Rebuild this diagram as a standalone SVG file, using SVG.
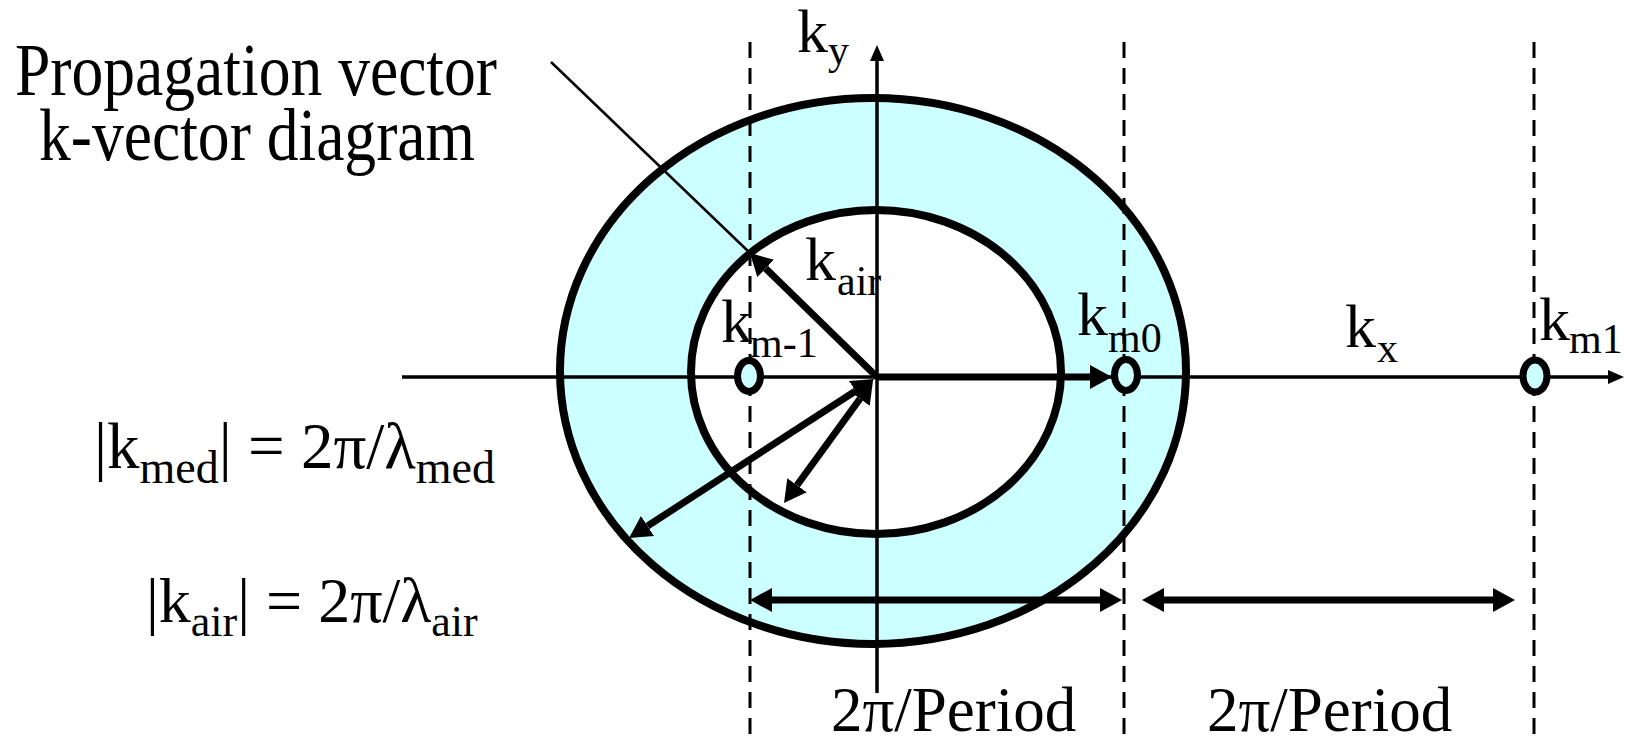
<svg xmlns="http://www.w3.org/2000/svg" width="1626" height="742" viewBox="0 0 1626 742">
<style>
text{font-family:"Liberation Serif","Times New Roman",serif;fill:#000}
.main{font-size:62px}
.sub{font-size:42px}
.emain{font-size:64px}
.esub{font-size:44px}
.ell{stroke:#000;stroke-width:8}
.dash{stroke:#000;stroke-width:3;stroke-dasharray:16 10;fill:none}
.axis{stroke:#000;stroke-width:3.5;fill:none}
.thick{stroke:#000;stroke-width:7;fill:none}
.pt{fill:#CCFFFF;stroke:#000;stroke-width:7}
</style>
<defs>
<marker id="ah" viewBox="0 -12 22 24" refX="0" refY="0" markerWidth="22" markerHeight="24" markerUnits="userSpaceOnUse" orient="auto-start-reverse"><path d="M0,-12 L22,0 L0,12 Z" fill="#000"/></marker>
<marker id="as" viewBox="0 -7 16 14" refX="0" refY="0" markerWidth="16" markerHeight="14" markerUnits="userSpaceOnUse" orient="auto-start-reverse"><path d="M0,-7 L16,0 L0,7 Z" fill="#000"/></marker>
</defs>
<rect width="1626" height="742" fill="#fff"/>

<g id="outer-circle"><ellipse class="ell" cx="873" cy="371" rx="313" ry="273" fill="#CCFFFF"/></g>
<g id="inner-circle"><ellipse class="ell" cx="876" cy="372" rx="185" ry="162" fill="#fff"/></g>

<g id="connectors">
<line class="dash" x1="750" y1="42" x2="750" y2="742"/>
<line class="dash" x1="1124" y1="42" x2="1124" y2="742"/>
<line class="dash" x1="1534" y1="42" x2="1534" y2="742"/>
<line class="axis" x1="402" y1="377" x2="1608" y2="377" marker-end="url(#as)"/>
<line class="axis" x1="877" y1="693" x2="877" y2="61" marker-end="url(#as)"/>
<line x1="551" y1="62" x2="750" y2="253" stroke="#000" stroke-width="2.5"/>
<line class="thick" x1="877" y1="377" x2="765.7" y2="268.4" marker-end="url(#ah)"/>
<line class="thick" x1="877" y1="377" x2="1090" y2="377" stroke-width="8" marker-end="url(#ah)"/>
<line class="thick" x1="855.5" y1="391" x2="647.5" y2="526" marker-start="url(#ah)" marker-end="url(#ah)"/>
<line class="thick" x1="860" y1="398.8" x2="797" y2="485.2" marker-start="url(#ah)" marker-end="url(#ah)"/>
<line class="thick" x1="772" y1="600" x2="1100" y2="600" stroke-width="7.5" marker-start="url(#ah)" marker-end="url(#ah)"/>
<line class="thick" x1="1164" y1="600" x2="1493" y2="600" stroke-width="7.5" marker-start="url(#ah)" marker-end="url(#ah)"/>
</g>

<g id="k-m-1"><ellipse class="pt" cx="749" cy="376" rx="11.5" ry="15.5"/></g>
<g id="k-m0"><ellipse class="pt" cx="1126" cy="375" rx="11.5" ry="15.5"/></g>
<g id="k-m1"><ellipse class="pt" cx="1535" cy="376" rx="12" ry="16"/></g>

<g id="title">
<text x="256" y="95" font-size="74" text-anchor="middle" textLength="482" lengthAdjust="spacingAndGlyphs">Propagation vector</text>
<text x="257" y="160" font-size="74" text-anchor="middle" textLength="436" lengthAdjust="spacingAndGlyphs">k-vector diagram</text>
</g>

<g id="label-ky"><text><tspan class="main" x="797" y="52">k</tspan><tspan class="sub" x="828" y="64">y</tspan></text></g>
<g id="label-kair"><text><tspan class="main" x="805" y="280">k</tspan><tspan class="sub" x="837" y="295">air</tspan></text></g>
<g id="label-km-1"><text><tspan class="main" x="721" y="342">k</tspan><tspan class="sub" x="750" y="357">m-1</tspan></text></g>
<g id="label-km0"><text><tspan class="main" x="1077" y="335">k</tspan><tspan class="sub" x="1108" y="352">m0</tspan></text></g>
<g id="label-kx"><text><tspan class="main" x="1345" y="347">k</tspan><tspan class="sub" x="1377" y="362">x</tspan></text></g>
<g id="label-km1"><text><tspan class="main" x="1539" y="340">k</tspan><tspan class="sub" x="1569" y="353">m1</tspan></text></g>

<g id="eq-kmed"><text><tspan font-size="65" x="94" y="468">|k</tspan><tspan font-size="46" y="483">med</tspan><tspan font-size="65" y="468">| = 2π/λ</tspan><tspan font-size="46" y="483">med</tspan></text></g>
<g id="eq-kair"><text><tspan class="emain" x="146" y="622">|k</tspan><tspan class="esub" y="636">air</tspan><tspan class="emain" y="622">| = 2π/λ</tspan><tspan class="esub" y="636">air</tspan></text></g>

<g id="period-1"><text x="831" y="731" font-size="63">2π/Period</text></g>
<g id="period-2"><text x="1207" y="731" font-size="63">2π/Period</text></g>
</svg>
